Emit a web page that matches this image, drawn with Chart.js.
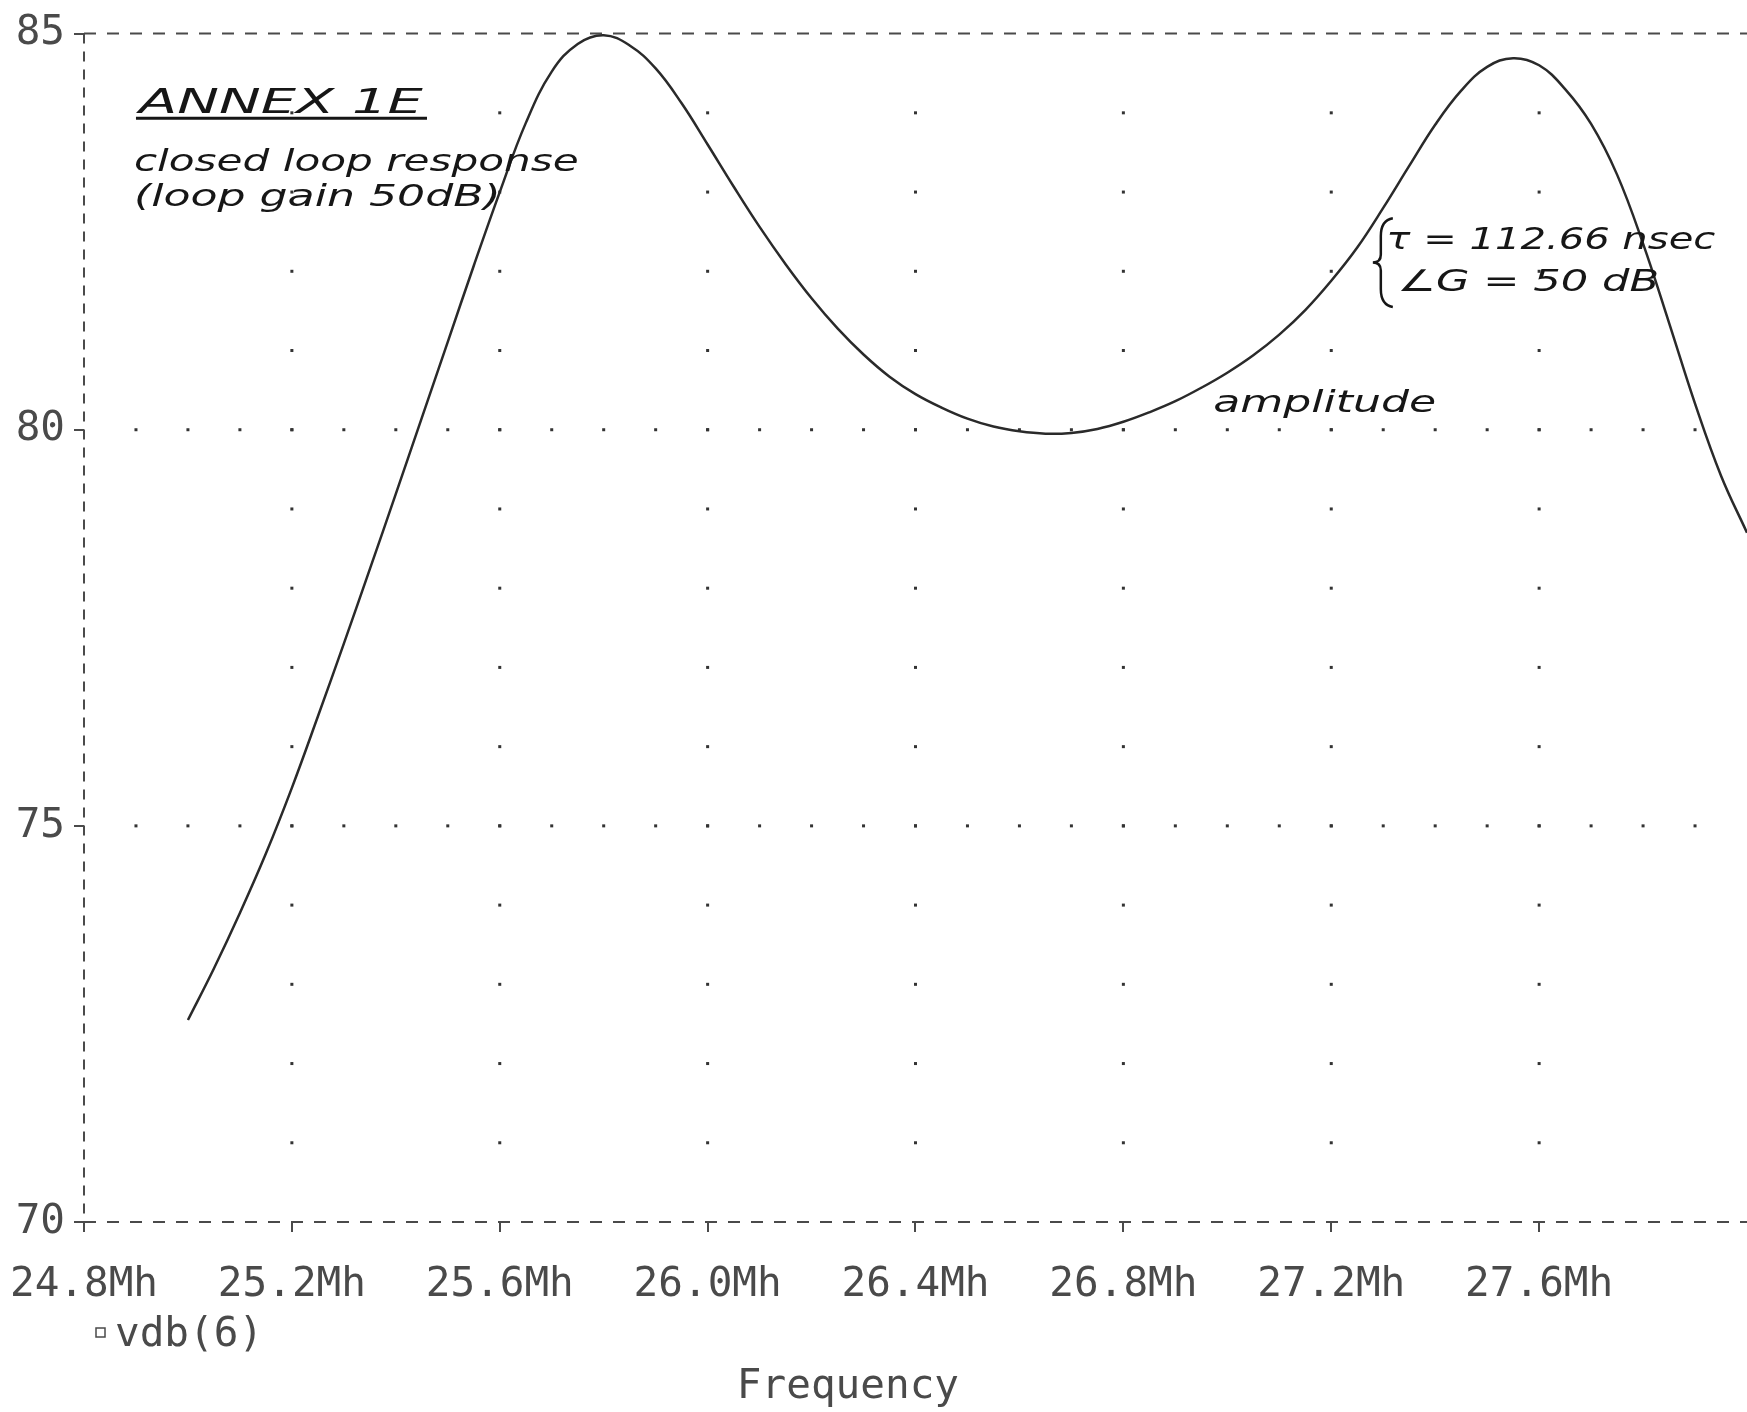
<!DOCTYPE html>
<html>
<head>
<meta charset="utf-8">
<title>vdb(6) - closed loop response</title>
<script src="https://cdn.jsdelivr.net/npm/chart.js@4.4.1/dist/chart.umd.min.js"></script>
<style>
    body { margin: 0; background: #fff; }
    #wrap { width: 1747px; height: 1412px; }
</style>
</head>
<body>
<div id="wrap"><canvas id="myChart" width="1747" height="1412"></canvas></div>
<script>
// data every 0.05 MHz (frequency in MHz, amplitude in dB)
const freqMHz = [
    25.00, 25.05, 25.10, 25.15, 25.20, 25.25, 25.30, 25.35, 25.40, 25.45,
    25.50, 25.55, 25.60, 25.65, 25.70, 25.75, 25.80, 25.85, 25.90, 25.95,
    26.00, 26.05, 26.10, 26.15, 26.20, 26.25, 26.30, 26.35, 26.40, 26.45,
    26.50, 26.55, 26.60, 26.65, 26.70, 26.75, 26.80, 26.85, 26.90, 26.95,
    27.00, 27.05, 27.10, 27.15, 27.20, 27.25, 27.30, 27.35, 27.40, 27.45,
    27.50, 27.55, 27.60, 27.65, 27.70, 27.75, 27.80, 27.85, 27.90, 27.95,
    28.00
];
const vdb6 = [
    72.55, 73.2, 73.9, 74.65, 75.48, 76.38, 77.3, 78.24, 79.19, 80.15,
    81.11, 82.07, 83.0, 83.87, 84.52, 84.87, 84.98, 84.85, 84.56, 84.12,
    83.6, 83.07, 82.56, 82.09, 81.66, 81.28, 80.95, 80.67, 80.45, 80.28,
    80.14, 80.04, 79.98, 79.95, 79.96, 80.01, 80.1, 80.22, 80.36, 80.53,
    80.72, 80.94, 81.2, 81.51, 81.88, 82.3, 82.8, 83.33, 83.85, 84.28,
    84.58, 84.69, 84.6, 84.3, 83.86, 83.22, 82.35, 81.35, 80.33, 79.42,
    78.7
];

const xTicks = [24.8, 25.2, 25.6, 26.0, 26.4, 26.8, 27.2, 27.6];
const xTickLabels = ['24.8Mh', '25.2Mh', '25.6Mh', '26.0Mh', '26.4Mh', '26.8Mh', '27.2Mh', '27.6Mh'];
const yTicks = [70, 75, 80, 85];
const yTickLabels = ['70', '75', '80', '85'];

const seriesName = 'vdb(6)';
const axisTitle = 'Frequency';

// handwritten notes on the print-out (placed in data units)
const notes = [
    { text: 'ANNEX 1E', x: 24.906, y: 84.0, w: 0.546, size: 34 },
    { text: 'closed loop response', x: 24.896, y: 83.26, w: 0.856, size: 30 },
    { text: '(loop gain 50dB)', x: 24.896, y: 82.82, w: 0.706, size: 30 },
    { text: 'τ = 112.66 nsec', x: 27.306, y: 82.28, w: 0.633, size: 30 },
    { text: '∠G = 50 dB', x: 27.327, y: 81.75, w: 0.504, size: 30 },
    { text: 'amplitude', x: 26.973, y: 80.22, w: 0.429, size: 30 }
];

const inkGrey = '#4a4a4a';
const monoFont = 'DejaVu Sans Mono';

function dot(ctx, px, py) {
    ctx.fillRect(px - 1.5, py - 1.5, 3, 3);
}

function dashedLine(ctx, x1, y1, x2, y2, dash) {
    ctx.setLineDash(dash);
    ctx.beginPath();
    ctx.moveTo(x1, y1);
    ctx.lineTo(x2, y2);
    ctx.stroke();
}

// squeeze / stretch a line of text to a given pixel width
function fitText(ctx, text, px, py, width) {
    const w = ctx.measureText(text).width;
    ctx.save();
    ctx.translate(px, py);
    ctx.scale(width / w, 1);
    ctx.fillText(text, 0, 0);
    ctx.restore();
}

// dotted grid, dashed frame, legend, title and the pen notes
const plotDecor = {
    id: 'plotDecor',
    beforeDatasetsDraw(chart) {
        const { ctx, chartArea: a } = chart;
        const x = chart.scales.x;
        const y = chart.scales.y;
        ctx.save();
        ctx.fillStyle = '#333';

        // vertical dotted lines at the labelled frequencies
        xTicks.slice(1).forEach(f => {
            for (let db = 71; db < 85; db++) {
                dot(ctx, x.getPixelForValue(f), y.getPixelForValue(db));
            }
        });
        // horizontal dotted lines at 75 and 80 dB
        yTicks.slice(1, 3).forEach(db => {
            for (let k = 1; k < 32; k++) {
                dot(ctx, x.getPixelForValue(24.8 + k * 0.1), y.getPixelForValue(db));
            }
        });

        // dashed frame: top, bottom and left
        ctx.strokeStyle = inkGrey;
        ctx.lineWidth = 2;
        dashedLine(ctx, a.left, a.top, a.right, a.top, [12, 11]);
        dashedLine(ctx, a.left, a.bottom, a.right, a.bottom, [12, 11]);
        dashedLine(ctx, a.left, a.top, a.left, a.bottom, [10, 8]);
        ctx.restore();
    },
    afterDraw(chart) {
        const { ctx } = chart;
        const x = chart.scales.x;
        const y = chart.scales.y;
        ctx.save();

        // legend
        ctx.strokeStyle = inkGrey;
        ctx.lineWidth = 1.5;
        ctx.strokeRect(96, 1328, 9, 9);
        ctx.fillStyle = inkGrey;
        ctx.font = '41px "' + monoFont + '"';
        ctx.textBaseline = 'alphabetic';
        ctx.textAlign = 'left';
        ctx.fillText(seriesName, 115, 1346);

        // axis title
        ctx.textAlign = 'center';
        ctx.fillText(axisTitle, x.getPixelForValue(26.27), 1398);

        // pen notes
        ctx.textAlign = 'left';
        ctx.fillStyle = '#161616';
        notes.forEach(n => {
            ctx.font = 'italic ' + n.size + 'px "DejaVu Sans"';
            const px = x.getPixelForValue(n.x);
            const w = x.getPixelForValue(n.x + n.w) - px;
            fitText(ctx, n.text, px, y.getPixelForValue(n.y), w);
        });

        // underline under ANNEX 1E
        ctx.strokeStyle = '#161616';
        ctx.lineWidth = 3;
        ctx.beginPath();
        ctx.moveTo(x.getPixelForValue(24.9), y.getPixelForValue(83.93));
        ctx.lineTo(x.getPixelForValue(25.46), y.getPixelForValue(83.93));
        ctx.stroke();

        // curly brace in front of the two right-hand notes
        const bx = x.getPixelForValue(27.28);
        const bt = y.getPixelForValue(82.67);
        const bb = y.getPixelForValue(81.55);
        const bm = (bt + bb) / 2;
        ctx.lineWidth = 2.5;
        ctx.beginPath();
        ctx.moveTo(bx + 20, bt);
        ctx.quadraticCurveTo(bx + 8, bt + 2, bx + 8, bt + 18);
        ctx.lineTo(bx + 8, bm - 8);
        ctx.quadraticCurveTo(bx + 8, bm, bx, bm);
        ctx.quadraticCurveTo(bx + 8, bm, bx + 8, bm + 8);
        ctx.lineTo(bx + 8, bb - 18);
        ctx.quadraticCurveTo(bx + 8, bb - 2, bx + 20, bb);
        ctx.stroke();

        ctx.restore();
    }
};

const ctx = document.getElementById('myChart').getContext('2d');

const myChart = new Chart(ctx, {
    type: 'line',
    data: {
        datasets: [{
            label: seriesName,
            data: freqMHz.map((f, i) => ({ x: f, y: vdb6[i] })),
            borderColor: '#2a2a2a',
            borderWidth: 2.5,
            pointRadius: 0,
            fill: false,
            tension: 0.4
        }]
    },
    options: {
        responsive: false,
        animation: false,
        devicePixelRatio: 1,
        layout: { padding: { top: 31, right: 0, bottom: 0, left: 0 } },
        plugins: {
            legend: { display: false },
            title: { display: false },
            tooltip: { enabled: false }
        },
        scales: {
            x: {
                type: 'linear',
                min: 24.8,
                max: 28.0,
                afterFit: s => {
                    s.height = 190;
                    s.paddingLeft = 0;
                    s.paddingRight = 0;
                },
                afterBuildTicks: s => { s.ticks = xTicks.map(v => ({ value: v })) },
                grid: { drawOnChartArea: false, drawTicks: true, tickLength: 10, color: inkGrey, lineWidth: 2 },
                border: { display: false },
                ticks: {
                    autoSkip: false,
                    maxRotation: 0,
                    padding: 29,
                    color: inkGrey,
                    font: { family: monoFont, size: 41 },
                    callback: (v, i) => xTickLabels[i]
                }
            },
            y: {
                min: 70,
                max: 85,
                afterFit: s => { s.width = 84 },
                afterBuildTicks: s => { s.ticks = yTicks.map(v => ({ value: v })) },
                grid: { drawOnChartArea: false, drawTicks: true, tickLength: 10, color: inkGrey, lineWidth: 2 },
                border: { display: false },
                ticks: {
                    padding: 9,
                    color: inkGrey,
                    font: { family: monoFont, size: 41 },
                    callback: (v, i) => yTickLabels[i]
                }
            }
        }
    },
    plugins: [plotDecor]
});
</script>
</body>
</html>
